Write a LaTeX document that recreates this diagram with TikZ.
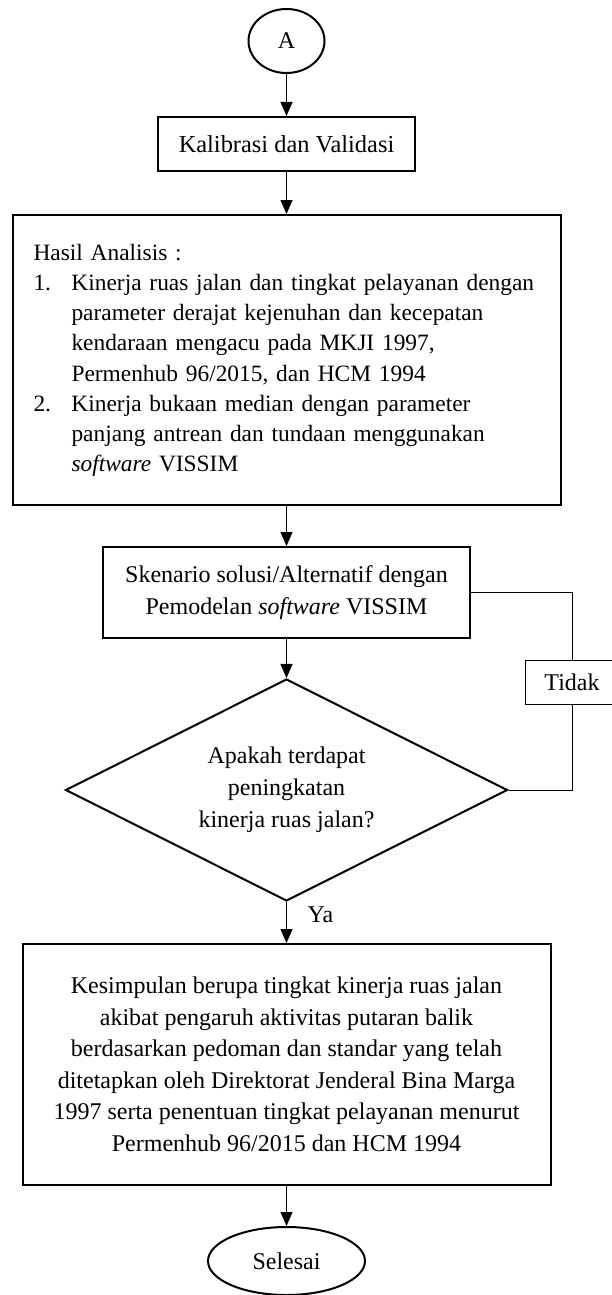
\documentclass[tikz,border=0pt]{standalone}
\usepackage{fontspec}
\setmainfont{Liberation Serif}
\usetikzlibrary{arrows.meta,shapes.geometric}

\begin{document}
\begin{tikzpicture}[x=0.5pt,y=-0.5pt,font=\fontsize{12}{15}\selectfont,
  box/.style={draw,line width=1pt,align=center,inner sep=0pt},
  term/.style={draw,ellipse,line width=1pt,inner sep=0pt},
  flow/.style={-{Triangle[width=6pt,length=7pt]},line width=0.5pt},
  loopline/.style={line width=0.5pt}]
  \useasboundingbox (0,0) rectangle (611,1295);
  \node[term,minimum width=38pt,minimum height=32pt] (mulai) at (286.5,41) {A};
  \node[box,minimum width=128.5pt,minimum height=27pt,
        font=\fontsize{12.2}{15}\selectfont] (kalib) at (286.5,144)
     {Kalibrasi dan Validasi};
  % hasil analisis
  \node[box,minimum width=274pt,minimum height=145pt,text width=253pt,
        inner xsep=10.5pt,align=left,font=\fontsize{11.7}{15.1}\selectfont]
        (hasil) at (286.5,360)
     {\begin{tabular}{@{}p{19pt}@{}l@{}}
      \multicolumn{2}{@{}l@{}}{Hasil Analisis :}\\
      1. & Kinerja ruas jalan dan tingkat pelayanan dengan\\
         & parameter derajat kejenuhan dan kecepatan\\
         & kendaraan mengacu pada MKJI 1997,\\
         & Permenhub 96/2015, dan HCM 1994\\
      2. & Kinerja bukaan median dengan parameter\\
         & panjang antrean dan tundaan menggunakan\\
         & \textit{software} VISSIM
      \end{tabular}};
  \node[box,minimum width=183.5pt,minimum height=45.5pt,
        font=\fontsize{12}{16}\selectfont] (skenario) at (286.5,592.5)
     {Skenario solusi/Alternatif dengan\\Pemodelan \textit{software} VISSIM};
  \node[draw,diamond,aspect=2,line width=1pt,inner sep=0pt,minimum width=221pt,
        minimum height=111pt,align=center,font=\fontsize{12}{16}\selectfont]
        (tanya) at (286.5,790)
     {Apakah terdapat\\peningkatan\\kinerja ruas jalan?};
  \node[draw,line width=0.5pt,minimum width=47pt,minimum height=22pt,inner sep=0pt]
        (tidak) at (572,682) {Tidak};
  \node[box,minimum width=264pt,minimum height=120.5pt,
        font=\fontsize{12}{15.75}\selectfont] (simpulan) at (286.5,1064.5)
     {Kesimpulan berupa tingkat kinerja ruas jalan\\
      akibat pengaruh aktivitas putaran balik\\
      berdasarkan pedoman dan standar yang telah\\
      ditetapkan oleh Direktorat Jenderal Bina Marga\\
      1997 serta penentuan tingkat pelayanan menurut\\
      Permenhub 96/2015 dan HCM 1994};
  \node[term,minimum width=78.5pt,minimum height=34pt] (selesai) at (286.5,1261) {Selesai};
  % alur
  \draw[flow] (mulai) -- (kalib);
  \draw[flow] (kalib) -- (hasil);
  \draw[flow] (hasil) -- (skenario);
  \draw[flow] (skenario) -- (tanya);
  \draw[flow] (tanya) -- node[pos=0.3,anchor=west,xshift=7pt] (ya) {Ya} (simpulan);
  \draw[flow] (simpulan) -- (selesai);
  % kembali jika tidak
  \draw[loopline] (tanya.east) -- (tidak.south |- tanya.east) -- (tidak.south);
  \draw[loopline] (tidak.north) -- (tidak.north |- skenario.east) -- (skenario.east);
\end{tikzpicture}
\end{document}
